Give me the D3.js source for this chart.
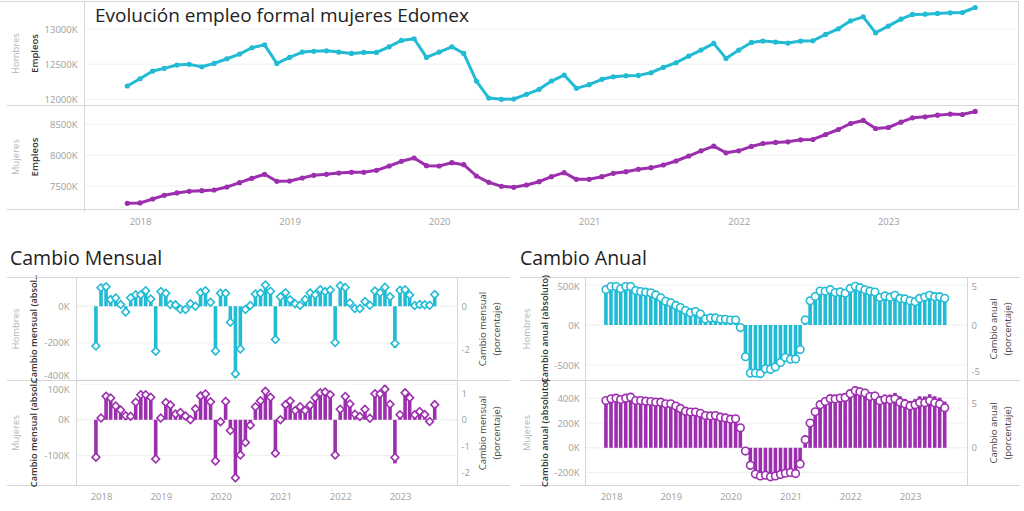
<!DOCTYPE html>
<html><head><meta charset="utf-8">
<script src="https://cdn.jsdelivr.net/npm/d3@7"></script>
<style>body{margin:0;background:#fff}svg{display:block}</style>
</head><body><svg id="c" width="1024" height="511"></svg>
<script>
// ---------- DATA (values in thousands) ----------
const months = d3.timeMonth.range(new Date(2017,11,1), new Date(2023,8,1)); // Dec 2017 .. Aug 2023
const yearTicks = [2018,2019,2020,2021,2022,2023];

const empleoHombres = [12189,12292,12402,12440,12487,12497,12463,12511,12577,12643,12733,12775,
12511,12596,12672,12682,12690,12672,12653,12667,12667,12747,12838,12861,
12596,12672,12747,12653,12260,12018,12000,12004,12071,12142,12260,12345,
12156,12208,12284,12321,12335,12340,12378,12454,12520,12615,12700,12795,
12582,12700,12809,12828,12814,12800,12828,12833,12923,13003,13116,13173,
12946,13041,13140,13207,13211,13221,13230,13235,13306];

const empleoMujeres = [7220,7225,7289,7349,7387,7414,7425,7435,7484,7554,7625,7690,
7576,7581,7630,7673,7690,7711,7722,7722,7754,7824,7900,7954,
7830,7824,7878,7846,7662,7560,7495,7479,7516,7570,7651,7716,
7608,7608,7651,7705,7732,7770,7797,7840,7905,7986,8070,8146,
8038,8070,8141,8189,8206,8216,8249,8254,8335,8416,8513,8562,
8432,8448,8534,8605,8621,8648,8665,8659,8708];

const mensualAbsH = [-227,103,110,38,47,10,-34,48,66,66,90,42,
-264,85,76,10,8,-18,-19,14,0,80,91,23,
-265,76,75,-94,-393,-242,-18,4,67,71,118,85,
-189,52,76,37,14,5,38,76,66,95,85,95,
-213,118,109,19,-14,-14,28,5,90,80,113,57,
-227,95,99,67,4,10,9,5,71];
const mensualPctH = [-1.83,0.85,0.89,0.31,0.38,0.08,-0.27,0.39,0.53,0.53,0.71,0.33,
-2.07,0.68,0.60,0.08,0.06,-0.14,-0.15,0.11,0.00,0.63,0.71,0.18,
-2.06,0.60,0.59,-0.74,-3.11,-1.97,-0.15,0.03,0.56,0.59,0.97,0.69,
-1.53,0.43,0.62,0.30,0.11,0.04,0.31,0.61,0.53,0.76,0.67,0.75,
-1.67,0.94,0.86,0.15,-0.11,-0.11,0.22,0.04,0.70,0.62,0.87,0.43,
-1.72,0.73,0.76,0.51,0.03,0.08,0.07,0.04,0.54];

const mensualAbsM = [-103,5,64,60,38,27,11,10,49,70,71,65,
-114,5,49,43,17,21,11,0,32,70,76,54,
-124,-6,54,-32,-172,-102,-65,-16,37,54,81,65,
-97,0,43,54,27,38,27,43,65,81,84,76,
-108,32,71,48,17,10,33,5,81,81,97,49,
-122,16,86,71,16,27,17,-6,49];
const mensualPctM = [-1.41,0.07,0.89,0.82,0.52,0.37,0.15,0.13,0.66,0.94,0.94,0.85,
-1.48,0.07,0.65,0.56,0.22,0.27,0.14,0.00,0.41,0.90,0.97,0.68,
-1.56,-0.08,0.69,-0.41,-2.19,-1.33,-0.86,-0.21,0.49,0.72,1.07,0.85,
-1.26,0.00,0.57,0.71,0.35,0.49,0.35,0.55,0.83,1.02,1.05,0.94,
-1.33,0.40,0.88,0.59,0.21,0.12,0.40,0.06,0.98,0.97,1.15,0.58,
-1.42,0.19,1.02,0.83,0.19,0.31,0.20,-0.07,0.57];

const anualAbsH = [459,500,504,477,508,508,456,446,439,434,410,373,
322,304,270,242,203,175,190,156,90,104,105,86,
85,76,75,-29,-430,-654,-653,-663,-596,-605,-578,-516,
-440,-464,-463,-332,75,322,378,450,449,473,440,450,
426,492,525,507,479,460,450,379,403,388,416,378,
364,341,331,379,397,421,402,402,383];
const anualPctH = [3.91,4.24,4.24,3.99,4.24,4.24,3.80,3.70,3.62,3.55,3.33,3.01,
2.64,2.47,2.18,1.95,1.63,1.40,1.52,1.25,0.72,0.82,0.82,0.67,
0.68,0.60,0.59,-0.23,-3.39,-5.16,-5.16,-5.23,-4.71,-4.75,-4.50,-4.01,
-3.49,-3.66,-3.63,-2.62,0.61,2.68,3.15,3.75,3.72,3.90,3.59,3.65,
3.50,4.03,4.27,4.11,3.88,3.73,3.64,3.04,3.22,3.08,3.28,2.95,
2.89,2.69,2.58,2.95,3.10,3.29,3.13,3.13,2.96];

const anualAbsM = [363,376,384,377,389,398,374,374,371,372,371,374,
356,356,341,324,303,297,297,287,270,270,275,264,
254,243,248,173,-28,-151,-227,-243,-238,-254,-249,-238,
-222,-216,-227,-141,70,210,302,361,389,416,419,430,
430,462,490,484,474,446,452,414,430,430,443,416,
394,378,393,416,415,432,416,405,373];
const anualPctM = [5.30,5.49,5.56,5.41,5.56,5.67,5.30,5.30,5.22,5.18,5.11,5.11,
4.93,4.93,4.68,4.41,4.10,4.01,4.00,3.86,3.61,3.57,3.61,3.43,
3.35,3.21,3.25,2.25,-0.36,-1.96,-2.94,-3.15,-3.07,-3.25,-3.15,-2.99,
-2.84,-2.76,-2.88,-1.80,0.91,2.78,4.03,4.83,5.18,5.50,5.48,5.57,
5.65,6.07,6.40,6.28,6.13,5.74,5.80,5.28,5.44,5.38,5.49,5.11,
4.90,4.68,4.83,5.08,5.06,5.26,5.04,4.91,4.48];

// ---------- STYLE ----------
const FONT = "'Open Sans','Noto Sans',sans-serif";
const CYAN = "#22bbd4", PURPLE = "#9c2fae";
const FRAME = "#d6d6d6", GRID = "#f0f0f0", TICK = "#9e9e9e";
const svg = d3.select("#c");
svg.append("rect").attr("width",1024).attr("height",511).attr("fill","#fff");

function hline(x1,x2,y,c){svg.append("line").attr("x1",x1).attr("x2",x2).attr("y1",y).attr("y2",y).attr("stroke",c||FRAME);}
function vline(x,y1,y2,c){svg.append("line").attr("x1",x).attr("x2",x).attr("y1",y1).attr("y2",y2).attr("stroke",c||FRAME);}
function vtext(x,y,txt,opt){
  svg.append("text").attr("transform",`translate(${x},${y}) rotate(-90)`).attr("text-anchor","middle")
    .attr("dominant-baseline","middle").attr("font-family",FONT).attr("font-size",opt.size||9.5)
    .attr("font-weight",opt.weight||400).attr("fill",opt.color).text(txt);
}
function styleAxis(g, scale, top, bottom){
  g.select(".domain").remove();
  g.attr("font-family",FONT).attr("font-size",9.5);
  g.selectAll("text").attr("fill",TICK);
  if (scale) g.selectAll(".tick").each(function(d){
    const yy = scale(d), c = Math.max(top+8.5, Math.min(bottom-5, yy));
    d3.select(this).select("text").attr("y", c-yy);
  });
}
function xAxis(scale, y){
  const g = svg.append("g").attr("transform",`translate(0,${y})`)
    .call(d3.axisBottom(scale).ticks(d3.timeYear.every(1)).tickFormat(d3.timeFormat("%Y")).tickSize(0));
  styleAxis(g);
  g.selectAll("text").attr("y",0).attr("dy","0.35em");
}
const kfmt = d => d + "K";

// ---------- TOP CHART ----------
svg.append("text").attr("x",95).attr("y",22).attr("font-family",FONT).attr("font-size",19)
  .attr("fill","#222").text("Evolución empleo formal mujeres Edomex");

const xTop = d3.scaleTime().domain([new Date(2018,0,1), new Date(2023,0,1)]).range([140, 888.3]);
const topPanes = [
  {vals: empleoHombres, color: CYAN, label: "Hombres", top: 2, bottom: 105,
   y: d3.scaleLinear().domain([12000,13000]).range([99.3,29]), ticks:[12000,12500,13000]},
  {vals: empleoMujeres, color: PURPLE, label: "Mujeres", top: 105, bottom: 209,
   y: d3.scaleLinear().domain([7500,8500]).range([186,124.3]), ticks:[7500,8000,8500]}
];
hline(0,1018.5,1.5); vline(84.5,1.5,212); vline(1018.5,1.5,209.5);
hline(7,1018.5,105.5); hline(7,1018.5,209.5);
topPanes.forEach(p=>{
  svg.append("g").selectAll("line").data(p.ticks).join("line")
    .attr("x1",85).attr("x2",1018).attr("y1",d=>p.y(d)).attr("y2",d=>p.y(d)).attr("stroke",GRID);
  const g = svg.append("g").attr("transform","translate(77.5,0)")
    .call(d3.axisLeft(p.y).tickValues(p.ticks).tickSize(0).tickPadding(0).tickFormat(kfmt));
  styleAxis(g, p.y, p.top, p.bottom);
  const line = d3.line().x((d,i)=>xTop(months[i])).y(d=>p.y(d));
  svg.append("path").datum(p.vals).attr("d",line).attr("fill","none").attr("stroke",p.color)
    .attr("stroke-width",3).attr("stroke-linejoin","round");
  svg.append("g").selectAll("circle").data(p.vals).join("circle")
    .attr("cx",(d,i)=>xTop(months[i])).attr("cy",d=>p.y(d)).attr("r",2.6).attr("fill",p.color);
  const cy = (p.top+p.bottom)/2;
  vtext(16, cy, p.label, {color:"#b4b4b4"});
  vtext(35, cy, "Empleos", {color:"#333", weight:600});
});
xAxis(xTop, 222);

// ---------- BOTTOM CHARTS ----------
svg.append("text").attr("x",10).attr("y",265).attr("font-family",FONT).attr("font-size",19.5)
  .attr("fill","#222").text("Cambio Mensual");
svg.append("text").attr("x",520).attr("y",265).attr("font-family",FONT).attr("font-size",19.5)
  .attr("fill","#222").text("Cambio Anual");

function barPane(o){
  const y = d3.scaleLinear().domain(o.yDom).range([o.bottom, o.top]);
  const r = d3.scaleLinear().domain(o.rDom).range([o.bottom, o.top]);
  svg.append("g").selectAll("line").data(o.yTicks.filter(t=>t!==0)).join("line")
    .attr("x1",o.left+1).attr("x2",o.right).attr("y1",d=>y(d)).attr("y2",d=>y(d)).attr("stroke",GRID);
  svg.append("line").attr("x1",o.left+1).attr("x2",o.right).attr("y1",y(0)).attr("y2",y(0))
    .attr("stroke","#c4c4c4").attr("stroke-dasharray","1,2");
  svg.append("g").selectAll("rect").data(o.abs).join("rect")
    .attr("x",(d,i)=>o.x(months[i])-1.8).attr("width",3.6)
    .attr("y",d=>Math.min(y(d),y(0))).attr("height",d=>Math.abs(y(d)-y(0))).attr("fill",o.color);
  const mk = svg.append("g");
  if (o.marker === "diamond") {
    mk.selectAll("path").data(o.pct).join("path")
      .attr("d", d3.symbol(d3.symbolSquare, 30)())
      .attr("transform",(d,i)=>`translate(${o.x(months[i])},${r(d)}) rotate(45)`)
      .attr("fill","#fff").attr("stroke",o.color).attr("stroke-width",1.6);
  } else {
    mk.selectAll("circle").data(o.pct).join("circle")
      .attr("cx",(d,i)=>o.x(months[i])).attr("cy",d=>r(d)).attr("r",3.8)
      .attr("fill","#fff").attr("stroke",o.color).attr("stroke-width",1.6);
  }
  const gl = svg.append("g").attr("transform",`translate(${o.lx},0)`)
    .call(d3.axisLeft(y).tickValues(o.yTicks).tickSize(0).tickPadding(0).tickFormat(kfmt));
  styleAxis(gl, y, o.top, o.bottom);
  const gr = svg.append("g").attr("transform",`translate(${o.rx},0)`)
    .call(d3.axisRight(r).tickValues(o.rTicks).tickSize(0).tickPadding(0).tickFormat(d=>String(d)));
  styleAxis(gr, r, o.top, o.bottom);
  const cy = (o.top+o.bottom)/2;
  vtext(o.rowX, cy, o.row, {color:"#b4b4b4"});
  vtext(o.absX, cy, o.absLabel, {color:"#333", weight:600, size:9.2});
  vtext(o.pctX, cy, o.pctLabel1, {color:"#444"});
  vtext(o.pctX+14.5, cy, o.pctLabel2, {color:"#444"});
}

const xMens = d3.scaleTime().domain([new Date(2018,0,1), new Date(2023,0,1)]).range([101, 400]);
const xAnual = d3.scaleTime().domain([new Date(2018,0,1), new Date(2023,0,1)]).range([611, 910]);

// frames
hline(7,510,277.5); hline(7,510,380.5); hline(7,510,485.5); vline(76.5,277,486); vline(457.5,277,486);
hline(520,1020,277.5); hline(520,1020,380.5); hline(520,1020,485.5); vline(585.5,277,486); vline(967.5,277,486);

const mensCommon = {x:xMens, left:76.5, right:457.5, lx:69.5, rx:461.5, rowX:16, absX:35, pctX:483,
  absLabel:"Cambio mensual (absol..", pctLabel1:"Cambio mensual", pctLabel2:"(porcentaje)", marker:"diamond"};
barPane(Object.assign({}, mensCommon, {top:277.5, bottom:380.5, abs:mensualAbsH, pct:mensualPctH, color:CYAN, row:"Hombres",
  yDom:[-406,157], yTicks:[-400,-200,0], rDom:[-3.42,1.32], rTicks:[-2,0]}));
barPane(Object.assign({}, mensCommon, {top:380.5, bottom:485.5, abs:mensualAbsM, pct:mensualPctM, color:PURPLE, row:"Mujeres",
  yDom:[-184,110], yTicks:[-100,0,100], rDom:[-2.48,1.48], rTicks:[-2,-1,0,1]}));

const anCommon = {x:xAnual, left:585.5, right:967.5, lx:579.5, rx:971.5, rowX:527, absX:546, pctX:994,
  absLabel:"Cambio anual (absoluto)", pctLabel1:"Cambio anual", pctLabel2:"(porcentaje)", marker:"circle"};
barPane(Object.assign({}, anCommon, {top:277.5, bottom:380.5, abs:anualAbsH, pct:anualPctH, color:CYAN, row:"Hombres",
  yDom:[-694,594], yTicks:[-500,0,500], rDom:[-5.98,5.22], rTicks:[-5,0,5]}));
barPane(Object.assign({}, anCommon, {top:380.5, bottom:485.5, abs:anualAbsM, pct:anualPctM, color:PURPLE, row:"Mujeres",
  yDom:[-304,543], yTicks:[-200,0,200,400], rDom:[-4.22,7.54], rTicks:[0,5]}));

xAxis(xMens, 497);
xAxis(xAnual, 497);
</script></body></html>
